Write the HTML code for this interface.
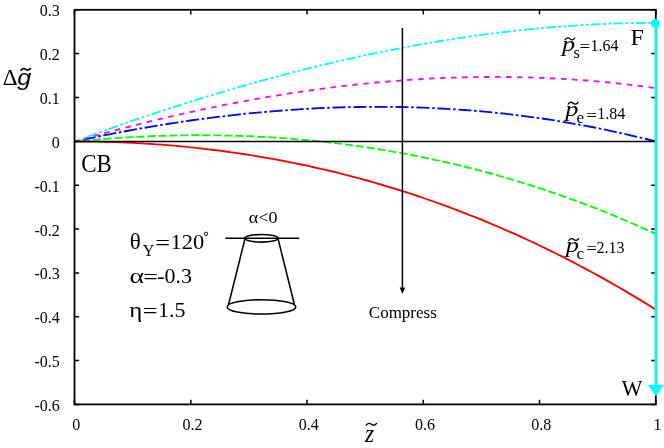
<!DOCTYPE html>
<html><head><meta charset="utf-8"><title>chart</title>
<style>
html,body{margin:0;padding:0;background:#fff;}
body{width:664px;height:448px;overflow:hidden;}
svg{display:block;}
text{font-family:"Liberation Serif",serif;fill:#000;filter:grayscale(1);}
.t{font-size:16px;}
.b{font-size:22px;}
.i{font-style:italic;}
.sans{font-family:"Liberation Sans",sans-serif;}
</style></head><body>
<svg width="664" height="448" viewBox="0 0 664 448">
<rect width="664" height="448" fill="#fff"/>
<path d="M74.5,141.5 L80.3,141.5 L86.1,141.6 L91.9,141.6 L97.8,141.7 L103.6,141.9 L109.4,142.0 L115.2,142.2 L121.0,142.4 L126.8,142.7 L132.6,142.9 L138.4,143.2 L144.3,143.6 L150.1,143.9 L155.9,144.3 L161.7,144.7 L167.5,145.2 L173.3,145.7 L179.1,146.2 L184.9,146.7 L190.8,147.3 L196.6,147.9 L202.4,148.6 L208.2,149.3 L214.0,150.0 L219.8,150.7 L225.6,151.5 L231.5,152.3 L237.3,153.1 L243.1,154.0 L248.9,154.9 L254.7,155.8 L260.5,156.8 L266.3,157.8 L272.1,158.8 L278.0,159.9 L283.8,161.0 L289.6,162.1 L295.4,163.3 L301.2,164.5 L307.0,165.7 L312.8,167.0 L318.6,168.3 L324.5,169.6 L330.3,171.0 L336.1,172.4 L341.9,173.9 L347.7,175.3 L353.5,176.9 L359.3,178.4 L365.1,180.0 L371.0,181.6 L376.8,183.3 L382.6,185.0 L388.4,186.8 L394.2,188.5 L400.0,190.3 L405.8,192.2 L411.7,194.1 L417.5,196.0 L423.3,198.0 L429.1,200.0 L434.9,202.0 L440.7,204.1 L446.5,206.2 L452.3,208.4 L458.2,210.6 L464.0,212.8 L469.8,215.1 L475.6,217.4 L481.4,219.7 L487.2,222.1 L493.0,224.6 L498.8,227.0 L504.7,229.6 L510.5,232.1 L516.3,234.7 L522.1,237.3 L527.9,240.0 L533.7,242.7 L539.5,245.5 L545.4,248.3 L551.2,251.1 L557.0,254.0 L562.8,256.9 L568.6,259.9 L574.4,262.9 L580.2,266.0 L586.0,269.1 L591.9,272.2 L597.7,275.4 L603.5,278.6 L609.3,281.9 L615.1,285.2 L620.9,288.5 L626.7,291.9 L632.5,295.4 L638.4,298.9 L644.2,302.4 L650.0,306.0 L655.8,309.6" fill="none" stroke="#ff0000" stroke-width="1.85" />
<path d="M74.5,141.5 L80.3,140.9 L86.1,140.4 L91.9,139.9 L97.8,139.4 L103.6,139.0 L109.4,138.5 L115.2,138.1 L121.0,137.8 L126.8,137.4 L132.6,137.1 L138.4,136.8 L144.3,136.5 L150.1,136.2 L155.9,136.0 L161.7,135.8 L167.5,135.7 L173.3,135.5 L179.1,135.4 L184.9,135.3 L190.8,135.3 L196.6,135.2 L202.4,135.2 L208.2,135.2 L214.0,135.3 L219.8,135.4 L225.6,135.5 L231.5,135.6 L237.3,135.8 L243.1,136.0 L248.9,136.2 L254.7,136.5 L260.5,136.8 L266.3,137.1 L272.1,137.4 L278.0,137.8 L283.8,138.2 L289.6,138.6 L295.4,139.1 L301.2,139.6 L307.0,140.1 L312.8,140.7 L318.6,141.3 L324.5,141.9 L330.3,142.5 L336.1,143.2 L341.9,143.9 L347.7,144.7 L353.5,145.5 L359.3,146.3 L365.1,147.1 L371.0,148.0 L376.8,148.9 L382.6,149.8 L388.4,150.8 L394.2,151.8 L400.0,152.8 L405.8,153.9 L411.7,155.0 L417.5,156.2 L423.3,157.3 L429.1,158.6 L434.9,159.8 L440.7,161.1 L446.5,162.4 L452.3,163.7 L458.2,165.1 L464.0,166.5 L469.8,168.0 L475.6,169.5 L481.4,171.0 L487.2,172.5 L493.0,174.1 L498.8,175.8 L504.7,177.4 L510.5,179.1 L516.3,180.9 L522.1,182.6 L527.9,184.5 L533.7,186.3 L539.5,188.2 L545.4,190.1 L551.2,192.1 L557.0,194.1 L562.8,196.1 L568.6,198.2 L574.4,200.3 L580.2,202.4 L586.0,204.6 L591.9,206.9 L597.7,209.1 L603.5,211.4 L609.3,213.8 L615.1,216.2 L620.9,218.6 L626.7,221.0 L632.5,223.5 L638.4,226.1 L644.2,228.7 L650.0,231.3 L655.8,233.9" fill="none" stroke="#00ff00" stroke-width="1.85" stroke-dasharray="8 3" stroke-dashoffset="3.96" />
<path d="M74.5,141.5 L80.3,140.2 L86.1,139.0 L91.9,137.8 L97.8,136.6 L103.6,135.4 L109.4,134.3 L115.2,133.2 L121.0,132.1 L126.8,131.0 L132.6,129.9 L138.4,128.9 L144.3,127.8 L150.1,126.9 L155.9,125.9 L161.7,124.9 L167.5,124.0 L173.3,123.1 L179.1,122.2 L184.9,121.3 L190.8,120.5 L196.6,119.7 L202.4,118.9 L208.2,118.1 L214.0,117.4 L219.8,116.7 L225.6,116.0 L231.5,115.3 L237.3,114.7 L243.1,114.0 L248.9,113.4 L254.7,112.9 L260.5,112.3 L266.3,111.8 L272.1,111.3 L278.0,110.8 L283.8,110.4 L289.6,110.0 L295.4,109.6 L301.2,109.2 L307.0,108.8 L312.8,108.5 L318.6,108.2 L324.5,108.0 L330.3,107.7 L336.1,107.5 L341.9,107.3 L347.7,107.2 L353.5,107.1 L359.3,107.0 L365.1,106.9 L371.0,106.8 L376.8,106.8 L382.6,106.8 L388.4,106.9 L394.2,106.9 L400.0,107.0 L405.8,107.1 L411.7,107.3 L417.5,107.5 L423.3,107.7 L429.1,107.9 L434.9,108.2 L440.7,108.5 L446.5,108.8 L452.3,109.2 L458.2,109.6 L464.0,110.0 L469.8,110.4 L475.6,110.9 L481.4,111.4 L487.2,111.9 L493.0,112.5 L498.8,113.1 L504.7,113.7 L510.5,114.4 L516.3,115.1 L522.1,115.8 L527.9,116.6 L533.7,117.4 L539.5,118.2 L545.4,119.0 L551.2,119.9 L557.0,120.8 L562.8,121.8 L568.6,122.8 L574.4,123.8 L580.2,124.8 L586.0,125.9 L591.9,127.0 L597.7,128.2 L603.5,129.3 L609.3,130.6 L615.1,131.8 L620.9,133.1 L626.7,134.4 L632.5,135.8 L638.4,137.1 L644.2,138.6 L650.0,140.0 L655.8,141.5" fill="none" stroke="#0000ff" stroke-width="1.85" stroke-dasharray="13 2.7 2.6 2.7" stroke-dashoffset="12.47" />
<path d="M74.5,141.5 L80.3,139.8 L86.1,138.2 L91.9,136.6 L97.8,135.0 L103.6,133.4 L109.4,131.8 L115.2,130.3 L121.0,128.8 L126.8,127.3 L132.6,125.8 L138.4,124.3 L144.3,122.9 L150.1,121.4 L155.9,120.0 L161.7,118.6 L167.5,117.3 L173.3,115.9 L179.1,114.6 L184.9,113.3 L190.8,112.0 L196.6,110.7 L202.4,109.5 L208.2,108.3 L214.0,107.1 L219.8,105.9 L225.6,104.7 L231.5,103.6 L237.3,102.5 L243.1,101.4 L248.9,100.3 L254.7,99.2 L260.5,98.2 L266.3,97.2 L272.1,96.2 L278.0,95.3 L283.8,94.3 L289.6,93.4 L295.4,92.5 L301.2,91.6 L307.0,90.8 L312.8,90.0 L318.6,89.2 L324.5,88.4 L330.3,87.7 L336.1,86.9 L341.9,86.2 L347.7,85.6 L353.5,84.9 L359.3,84.3 L365.1,83.7 L371.0,83.1 L376.8,82.5 L382.6,82.0 L388.4,81.5 L394.2,81.0 L400.0,80.6 L405.8,80.1 L411.7,79.7 L417.5,79.4 L423.3,79.0 L429.1,78.7 L434.9,78.4 L440.7,78.1 L446.5,77.9 L452.3,77.7 L458.2,77.5 L464.0,77.3 L469.8,77.2 L475.6,77.1 L481.4,77.0 L487.2,77.0 L493.0,76.9 L498.8,76.9 L504.7,77.0 L510.5,77.0 L516.3,77.1 L522.1,77.3 L527.9,77.4 L533.7,77.6 L539.5,77.8 L545.4,78.0 L551.2,78.3 L557.0,78.6 L562.8,78.9 L568.6,79.2 L574.4,79.6 L580.2,80.0 L586.0,80.5 L591.9,80.9 L597.7,81.4 L603.5,82.0 L609.3,82.5 L615.1,83.1 L620.9,83.8 L626.7,84.4 L632.5,85.1 L638.4,85.8 L644.2,86.6 L650.0,87.3 L655.8,88.2" fill="none" stroke="#ff00ff" stroke-width="1.85" stroke-dasharray="5.5 5.5" stroke-dashoffset="2.17" />
<path d="M74.5,141.5 L80.3,139.4 L86.1,137.2 L91.9,135.1 L97.8,133.0 L103.6,130.9 L109.4,128.8 L115.2,126.8 L121.0,124.7 L126.8,122.7 L132.6,120.7 L138.4,118.7 L144.3,116.8 L150.1,114.8 L155.9,112.9 L161.7,110.9 L167.5,109.0 L173.3,107.1 L179.1,105.3 L184.9,103.4 L190.8,101.6 L196.6,99.8 L202.4,97.9 L208.2,96.2 L214.0,94.4 L219.8,92.7 L225.6,90.9 L231.5,89.2 L237.3,87.5 L243.1,85.8 L248.9,84.2 L254.7,82.6 L260.5,80.9 L266.3,79.3 L272.1,77.8 L278.0,76.2 L283.8,74.7 L289.6,73.1 L295.4,71.6 L301.2,70.2 L307.0,68.7 L312.8,67.3 L318.6,65.8 L324.5,64.5 L330.3,63.1 L336.1,61.7 L341.9,60.4 L347.7,59.1 L353.5,57.8 L359.3,56.5 L365.1,55.2 L371.0,54.0 L376.8,52.8 L382.6,51.6 L388.4,50.5 L394.2,49.3 L400.0,48.2 L405.8,47.1 L411.7,46.0 L417.5,45.0 L423.3,43.9 L429.1,42.9 L434.9,42.0 L440.7,41.0 L446.5,40.1 L452.3,39.1 L458.2,38.2 L464.0,37.4 L469.8,36.5 L475.6,35.7 L481.4,34.9 L487.2,34.1 L493.0,33.4 L498.8,32.7 L504.7,32.0 L510.5,31.3 L516.3,30.7 L522.1,30.0 L527.9,29.4 L533.7,28.9 L539.5,28.3 L545.4,27.8 L551.2,27.3 L557.0,26.8 L562.8,26.4 L568.6,26.0 L574.4,25.6 L580.2,25.2 L586.0,24.8 L591.9,24.5 L597.7,24.2 L603.5,24.0 L609.3,23.7 L615.1,23.5 L620.9,23.4 L626.7,23.2 L632.5,23.1 L638.4,23.0 L644.2,22.9 L650.0,22.9 L655.8,22.8" fill="none" stroke="#00ffff" stroke-width="1.85" stroke-dasharray="9.5 2.6 2.8 2.6 2.8 2.2" stroke-dashoffset="8.49" />
<line x1="74.5" y1="141.5" x2="655.8" y2="141.5" stroke="#000" stroke-width="1.4"/>
<rect x="74.5" y="9.8" width="581.3" height="394.59999999999997" fill="none" stroke="#000" stroke-width="1.8"/>
<path d="M74.5,9.8h4.6 M655.8,9.8h-4.6 M74.5,53.6h4.6 M655.8,53.6h-4.6 M74.5,97.5h4.6 M655.8,97.5h-4.6 M74.5,141.3h4.6 M655.8,141.3h-4.6 M74.5,185.2h4.6 M655.8,185.2h-4.6 M74.5,229.0h4.6 M655.8,229.0h-4.6 M74.5,272.9h4.6 M655.8,272.9h-4.6 M74.5,316.7h4.6 M655.8,316.7h-4.6 M74.5,360.6h4.6 M655.8,360.6h-4.6 M74.5,404.4h4.6 M655.8,404.4h-4.6 M74.5,9.8v4.6 M74.5,404.4v-4.6 M190.8,9.8v4.6 M190.8,404.4v-4.6 M307.0,9.8v4.6 M307.0,404.4v-4.6 M423.3,9.8v4.6 M423.3,404.4v-4.6 M539.5,9.8v4.6 M539.5,404.4v-4.6 M655.8,9.8v4.6 M655.8,404.4v-4.6" stroke="#000" stroke-width="1.5" fill="none"/>
<text class="t" x="59.8" y="16.3" text-anchor="end">0.3</text>
<text class="t" x="59.8" y="60.1" text-anchor="end">0.2</text>
<text class="t" x="59.8" y="104.0" text-anchor="end">0.1</text>
<text class="t" x="59.8" y="147.8" text-anchor="end">0</text>
<text class="t" x="59.8" y="191.7" text-anchor="end">-0.1</text>
<text class="t" x="59.8" y="235.5" text-anchor="end">-0.2</text>
<text class="t" x="59.8" y="279.4" text-anchor="end">-0.3</text>
<text class="t" x="59.8" y="323.2" text-anchor="end">-0.4</text>
<text class="t" x="59.8" y="367.1" text-anchor="end">-0.5</text>
<text class="t" x="59.8" y="410.9" text-anchor="end">-0.6</text>
<text class="t" x="76.3" y="430.3" text-anchor="middle">0</text>
<text class="t" x="192.6" y="430.3" text-anchor="middle">0.2</text>
<text class="t" x="308.8" y="430.3" text-anchor="middle">0.4</text>
<text class="t" x="425.1" y="430.3" text-anchor="middle">0.6</text>
<text class="t" x="541.3" y="430.3" text-anchor="middle">0.8</text>
<text class="t" x="657.6" y="430.3" text-anchor="middle">1</text>
<line x1="655.75" y1="23.5" x2="655.75" y2="386" stroke="#00ffff" stroke-width="2.3"/>
<circle cx="655.35" cy="23.4" r="4.5" fill="#00ffff"/>
<path d="M649,385.5 L662.7,385.5 L655.85,395.2 Z" fill="#00ffff" stroke="#00ffff" stroke-width="1.3" stroke-linejoin="round"/>
<line x1="402.4" y1="28" x2="402.4" y2="289" stroke="#000" stroke-width="1.5"/>
<path d="M399.7,287.5 L405.1,287.5 L402.4,294 Z" fill="#000"/>
<text x="402.8" y="317.8" text-anchor="middle" style="font-size:17px">Compress</text>
<text x="81.3" y="172" style="font-size:24.5px" textLength="30.6" lengthAdjust="spacingAndGlyphs">CB</text>
<text x="630.6" y="44.7" style="font-size:24px">F</text>
<text x="621.6" y="395.5" style="font-size:23px" textLength="21" lengthAdjust="spacingAndGlyphs">W</text>
<text x="2.8" y="85" style="font-size:23px">Δ</text>
<text class="sans i" x="17.3" y="85" style="font-size:22.5px" textLength="14" lengthAdjust="spacingAndGlyphs">g</text>
<path d="M20.6,70.8 q2.4,-3.4 5,-1.5 q2.8,2 5.4,-1.3" fill="none" stroke="#000" stroke-width="1.6"/>
<text class="b i" transform="translate(365.1,442.2) scale(1.065,1.17)" x="0" y="0">z</text>
<path d="M366.20,425.20 c1.56,-2.3 3.64,-2.3 5.20,-0.9 s3.64,1.4 5.20,-0.9" fill="none" stroke="#000" stroke-width="1.3" stroke-linecap="round"/>
<text x="129.8" y="248.9" style="font-size:23px">θ</text>
<text x="142.8" y="255.7" style="font-size:16px">Y</text>
<text class="b" x="155.25" y="249.8" textLength="14.8" lengthAdjust="spacingAndGlyphs">=</text>
<text class="b" x="170.5" y="248.9" textLength="33.6" lengthAdjust="spacingAndGlyphs">120</text>
<circle cx="206" cy="233.8" r="1.7" fill="none" stroke="#000" stroke-width="0.9"/>
<text class="b" x="129.6" y="283" textLength="14.6" lengthAdjust="spacingAndGlyphs">α</text>
<text class="b" x="143.15" y="283.8" textLength="14.6" lengthAdjust="spacingAndGlyphs">=</text>
<text class="b" x="157.3" y="283">-0.3</text>
<text class="b" x="129.3" y="317.2" textLength="13" lengthAdjust="spacingAndGlyphs">η</text>
<text class="b" x="142.65" y="318" textLength="14.8" lengthAdjust="spacingAndGlyphs">=</text><text class="b" x="158" y="317.2">1.5</text>
<text x="248.8" y="222.7" style="font-size:16.5px" textLength="28.6" lengthAdjust="spacingAndGlyphs">α&lt;0</text>
<g fill="none" stroke="#000" stroke-width="1.55"><line x1="225.4" y1="238.3" x2="299.2" y2="238.3"/><ellipse cx="261.5" cy="238.3" rx="16.6" ry="3.8"/><ellipse cx="261.5" cy="306.9" rx="34.3" ry="7.2"/><line x1="245" y1="238.6" x2="228.6" y2="304.5"/><line x1="278" y1="238.6" x2="294.4" y2="304.5"/></g>
<text class="b i" x="562.0" y="51.0" textLength="13.2" lengthAdjust="spacingAndGlyphs">p</text>
<path d="M565.00,39.80 c1.47,-2.3 3.43,-2.3 4.90,-0.9 s3.43,1.4 4.90,-0.9" fill="none" stroke="#000" stroke-width="1.3" stroke-linecap="round"/>
<text x="573.6" y="57.6" style="font-size:16.5px">s</text>
<text class="t" x="579.45" y="52.199999999999996" textLength="10.7" lengthAdjust="spacingAndGlyphs">=</text>
<text class="t" x="590.5" y="50.8">1.64</text>
<text class="b i" x="565.2" y="115.7" textLength="13.2" lengthAdjust="spacingAndGlyphs">p</text>
<path d="M568.20,104.10 c1.47,-2.3 3.43,-2.3 4.90,-0.9 s3.43,1.4 4.90,-0.9" fill="none" stroke="#000" stroke-width="1.3" stroke-linecap="round"/>
<text x="576.6" y="122.5" style="font-size:17px">e</text>
<text class="t" x="586.25" y="120.5" textLength="10.7" lengthAdjust="spacingAndGlyphs">=</text>
<text class="t" x="597.3" y="119.1">1.84</text>
<text class="b i" x="565.8" y="252.0" textLength="13.2" lengthAdjust="spacingAndGlyphs">p</text>
<path d="M568.80,240.40 c1.47,-2.3 3.43,-2.3 4.90,-0.9 s3.43,1.4 4.90,-0.9" fill="none" stroke="#000" stroke-width="1.3" stroke-linecap="round"/>
<text x="576.6" y="259.3" style="font-size:17px">c</text>
<text class="t" x="586.25" y="253.9" textLength="10.7" lengthAdjust="spacingAndGlyphs">=</text>
<text class="t" x="596.6" y="252.5">2.13</text>
</svg></body></html>
